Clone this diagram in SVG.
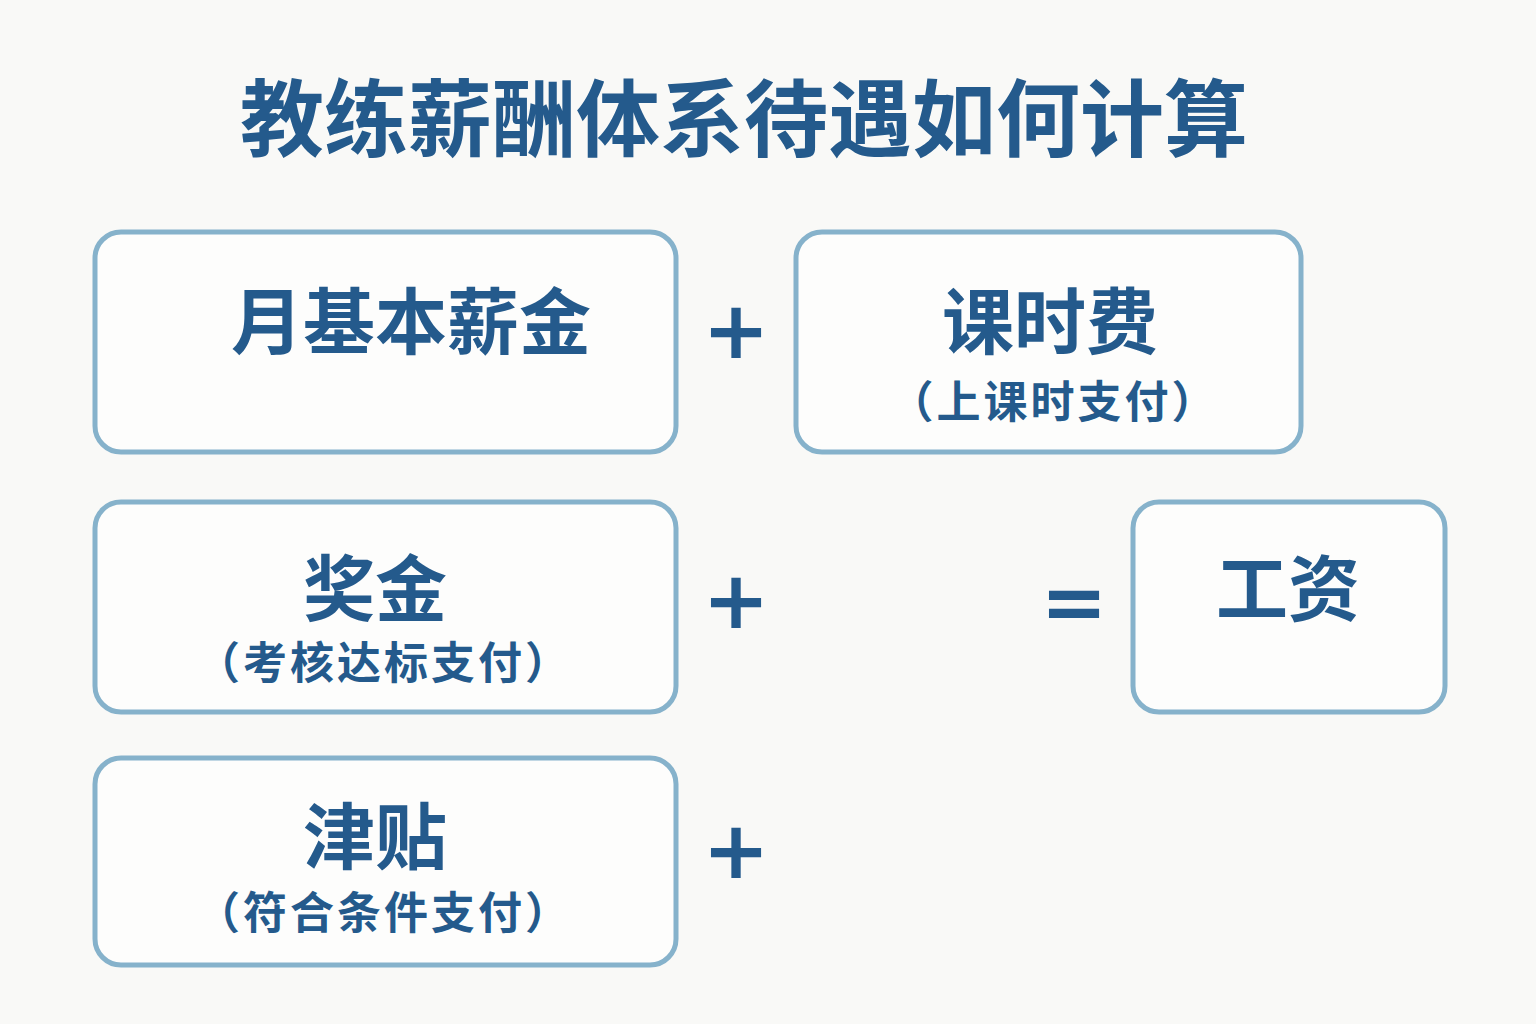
<svg xmlns="http://www.w3.org/2000/svg" width="1536" height="1024" viewBox="0 0 1536 1024">
<style>
.box{fill:#fdfdfc;stroke:#86b2cb;stroke-width:5}
.t{font-family:"Noto Sans CJK SC","Noto Sans",sans-serif;font-weight:bold;fill:#245a8c;text-anchor:middle}
.big{font-size:72px}
.sub{font-size:44px;font-weight:bold;letter-spacing:3px}
.op{font-family:"DejaVu Sans",sans-serif;font-weight:bold;font-size:80px;fill:#245a8c;text-anchor:middle}
</style>
<rect width="1536" height="1024" fill="#f9f9f7"/>
<text class="t" x="744" y="150" font-size="84">教练薪酬体系待遇如何计算</text>
<g id="base">
<rect class="box" x="95" y="232" width="581" height="220" rx="26"/>
<text class="t big" x="411" y="348">月基本薪金</text>
</g>
<g id="lesson">
<rect class="box" x="796" y="232" width="505" height="220" rx="26"/>
<text class="t big" x="1050" y="348">课时费</text>
<text class="t sub" x="1054" y="418">（上课时支付）</text>
</g>
<g id="bonus">
<rect class="box" x="95" y="502" width="581" height="210" rx="26"/>
<text class="t big" x="375" y="615">奖金</text>
<text class="t sub" x="384" y="679">（考核达标支付）</text>
</g>
<g id="allowance">
<rect class="box" x="95" y="758" width="581" height="207" rx="26"/>
<text class="t big" x="375" y="863">津贴</text>
<text class="t sub" x="384" y="929">（符合条件支付）</text>
</g>
<g id="salary">
<rect class="box" x="1133" y="502" width="312" height="210" rx="26"/>
<text class="t big" x="1288" y="615">工资</text>
</g>
<g id="connectors">
<text class="op" x="736" y="358">+</text>
<text class="op" x="736" y="628">+</text>
<text class="op" x="736" y="878">+</text>
<text class="op" x="1074" y="630">=</text>
</g>
</svg>
